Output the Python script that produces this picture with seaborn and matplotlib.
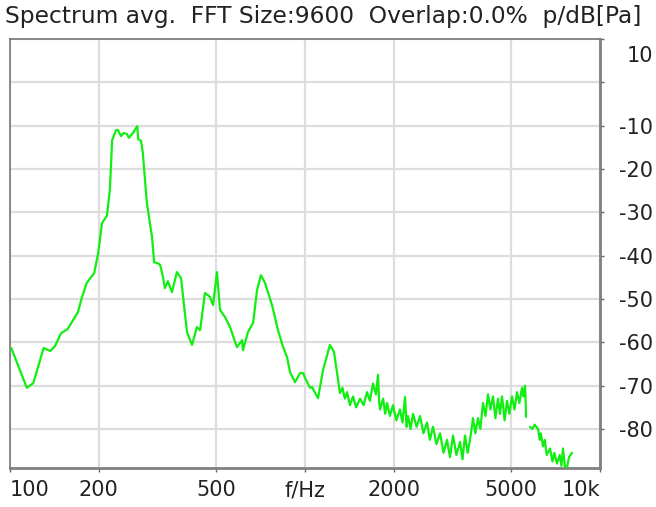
import numpy as np
import pandas as pd
import matplotlib
matplotlib.use("Agg")
import matplotlib.pyplot as plt
import matplotlib.transforms as mtransforms
import seaborn as sns

# spectrum, two pieces (the trace breaks near 5.6 kHz)
freq_a = [101, 114, 120, 130, 137, 142, 149, 157, 170, 175, 182, 193, 199, 205,
          213, 218, 222, 229, 232, 238, 243, 249, 253, 261, 270, 272, 278, 282,
          291, 303, 308, 320, 323, 330, 335, 343, 354, 368, 380, 398, 414, 430,
          441, 458, 476, 488, 503, 515, 536, 557, 588, 612, 616, 641, 667, 688,
          709, 732, 773, 810, 842, 869, 890, 925, 962, 985, 1000, 1040, 1056,
          1107, 1151, 1215, 1254,
          1314, 1340, 1365, 1388, 1420, 1455, 1490, 1537, 1580, 1623, 1660,
          1700, 1740, 1768, 1785, 1796, 1840, 1870, 1897, 1940, 1988, 2040,
          2099, 2140, 2183, 2210, 2235, 2280, 2324, 2390, 2454, 2520, 2592,
          2650, 2716, 2790, 2869, 2950, 3030, 3100, 3175, 3260, 3353, 3420,
          3486, 3560, 3625, 3670, 3711, 3780, 3859, 3930, 4012, 4090, 4172,
          4250, 4339, 4420, 4511, 4580, 4655, 4750, 4840, 4930, 5031, 5130,
          5232, 5330, 5440, 5500, 5569, 5600, 5613]
level_a = [-61.3, -70.5, -69.4, -61.3, -62.0, -60.9, -57.9, -56.9, -53.0, -49.8,
           -46.3, -44.0, -39.4, -32.5, -30.8, -24.8, -13.3, -11.0, -11.0, -12.4,
           -11.7, -11.9, -12.8, -11.7, -10.1, -13.1, -13.5, -16.3, -27.8, -35.7,
           -41.5, -41.9, -42.2, -44.9, -47.5, -45.9, -48.4, -43.8, -45.2, -57.6,
           -60.6, -56.5, -57.2, -48.6, -49.5, -51.4, -43.8, -52.5, -54.2, -56.5,
           -61.1, -59.5, -61.8, -57.6, -55.5, -47.9, -44.5, -46.3, -51.4, -57.2,
           -61.0, -63.4, -66.9, -69.2, -67.1, -67.1, -68.2, -70.5, -70.3, -72.9,
           -66.4, -60.6, -62.2,
           -71.7, -70.5, -73.0, -71.5, -74.5, -72.5, -75.0, -73.0, -74.5, -71.5,
           -73.5, -69.5, -72.0, -67.5, -74.0, -75.5, -73.0, -76.5, -74.0, -77.0,
           -74.5, -78.0, -75.5, -78.5, -72.6, -79.5, -77.0, -80.0, -76.5, -79.5,
           -77.0, -81.0, -78.5, -82.5, -79.5, -83.5, -81.0, -85.5, -82.5, -86.5,
           -81.5, -86.0, -83.0, -87.0, -81.5, -85.5, -82.5, -80.0, -77.5, -81.0,
           -77.5, -80.0, -74.0, -77.0, -72.0, -75.5, -72.5, -77.5, -73.0, -76.5,
           -72.5, -78.0, -73.5, -76.5, -72.5, -75.5, -71.5, -74.0, -70.5, -72.5,
           -70.0, -74.0, -77.2]
freq_b = [5790, 5900, 6000, 6163, 6250, 6300, 6409, 6500, 6600, 6769, 6900,
          7000, 7149, 7300, 7400, 7492, 7600, 7729, 7850, 8037]
level_b = [-79.5, -80.0, -79.0, -80.0, -82.5, -81.0, -84.0, -82.5, -86.0, -84.5,
           -87.5, -85.5, -88.0, -86.0, -88.5, -84.5, -88.5, -89.0, -86.5, -85.5]

y_ticks = [10, 0, -10, -20, -30, -40, -50, -60, -70, -80]
y_labels = ["10", "", "-10", "-20", "-30", "-40", "-50", "-60", "-70", "-80"]
x_ticks = [100, 200, 500, 1000, 2000, 5000, 10000]
x_labels = ["100", "200", "500", "f/Hz", "2000", "5000", "10k"]

title = "Spectrum avg.  FFT Size:9600  Overlap:0.0%  p/dB[Pa]"

sns.set_style("white")
plt.rcParams["font.family"] = ["DejaVu Sans"]

seg_a = pd.DataFrame({"f": freq_a, "dB": level_a})
seg_b = pd.DataFrame({"f": freq_b, "dB": level_b})

fig = plt.figure(figsize=(6.56, 5.07), dpi=100)
ax = fig.add_axes([10 / 656, 1 - 468 / 507, 590 / 656, 429 / 507])
ax.set_xscale("log")

for seg in (seg_a, seg_b):
    sns.lineplot(data=seg, x="f", y="dB", ax=ax, color="#11ee11", lw=1.6,
                 sort=False, zorder=3)

ax.set_xlim(100, 10000)
ax.set_ylim(-89, 10)
ax.set_xticks(x_ticks)
ax.set_xticklabels(x_labels)
ax.xaxis.set_minor_locator(matplotlib.ticker.NullLocator())
ax.set_yticks(y_ticks)
ax.set_yticklabels(y_labels)
ax.yaxis.tick_right()
ax.set_xlabel("")
ax.set_ylabel("")

ax.grid(True, color="#dddddd", lw=1.6)
ax.set_axisbelow(True)
for side in ["top", "left"]:
    ax.spines[side].set_color("#777777")
    ax.spines[side].set_linewidth(1.2)
for side in ["right", "bottom"]:
    ax.spines[side].set_color("#808080")
    ax.spines[side].set_linewidth(2)

ax.tick_params(axis="y", right=True, left=False, length=3, width=1,
               color="#666666", labelsize=15, labelcolor="#222222", pad=35)
ax.tick_params(axis="x", bottom=True, length=3, width=1, color="#666666",
               labelsize=15, labelcolor="#222222", pad=6)
for lab in ax.get_yticklabels():
    lab.set_horizontalalignment("right")

# the "10" label sits just under the top edge
top_lab = ax.yaxis.get_major_ticks()[0].label2
top_lab.set_verticalalignment("top")
top_lab.set_transform(top_lab.get_transform()
                      + mtransforms.ScaledTranslation(0, -7 / 100, fig.dpi_scale_trans))

xl = ax.get_xticklabels()
xl[0].set_horizontalalignment("left")
xl[-1].set_horizontalalignment("right")

fig.text(5 / 656, 1 - 16 / 507, title, fontsize=16.8, color="#222222",
         ha="left", va="center")

fig.savefig("out.png", dpi=100)
